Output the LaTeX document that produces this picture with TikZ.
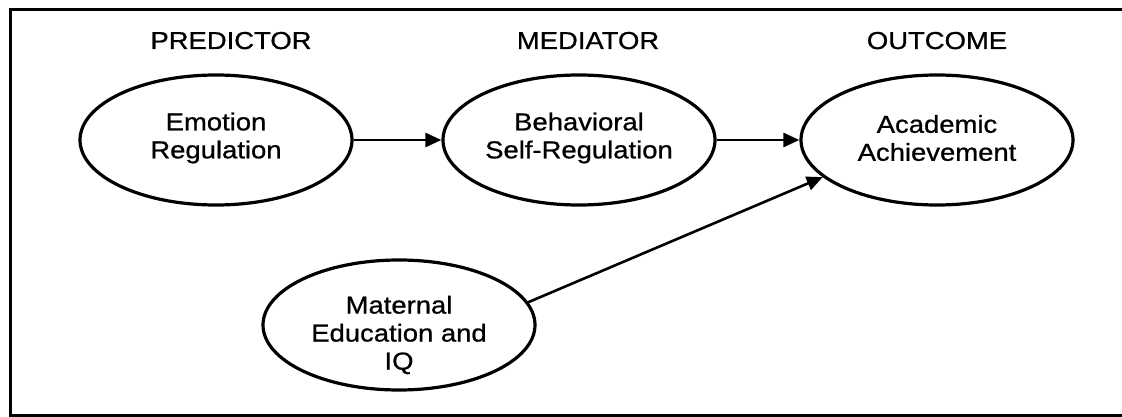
\documentclass[tikz,border=0pt]{standalone}
\usepackage{fontspec}
\setmainfont[FakeStretch=1.12,FakeBold=0.8]{Liberation Sans}
\usetikzlibrary{shapes.geometric,arrows.meta}
\begin{document}
\begin{tikzpicture}[x=1pt,y=-1pt,
  oval/.style={ellipse,draw,line width=3.2pt,minimum width=272pt,minimum height=130pt,inner sep=0pt},
  txt/.style={align=center,inner sep=0pt,font=\fontsize{24.5pt}{28pt}\selectfont},
  hdr/.style={inner sep=0pt,font=\fontsize{24.5pt}{28pt}\selectfont,anchor=base},
  arr/.style={line width=2.6pt,-{Triangle[length=16pt,width=14pt]}}]
\useasboundingbox (0,0) rectangle (1122,417);
\draw[line width=3pt] (1122,10) -- (10,10) -- (10,415.5) -- (1122,415.5);
% headers
\node[hdr] (h1) at (231,49) {PREDICTOR};
\node[hdr] (h2) at (588,49) {MEDIATOR};
\node[hdr] (h3) at (937,49) {OUTCOME};
% ellipses
\node[oval] (emo) at (216,140) {};
\node[oval] (beh) at (579,140) {};
\node[oval] (aca) at (937,140) {};
\node[oval] (mat) at (399,325) {};
% texts
\node[txt] (emot) at (216,138) {Emotion\\Regulation};
\node[txt] (beht) at (579,138) {Behavioral\\Self-Regulation};
\node[txt] (acat) at (937,138) {Academic\\Achievement};
\node[txt] (matt) at (399,335) {Maternal\\Education and\\IQ};
% arrows
\draw[arr] (emo.east) -- (beh.west);
\draw[arr] (beh.east) -- (aca.west);
\draw[arr] (mat.10) -- (aca.198);
\end{tikzpicture}
\end{document}
